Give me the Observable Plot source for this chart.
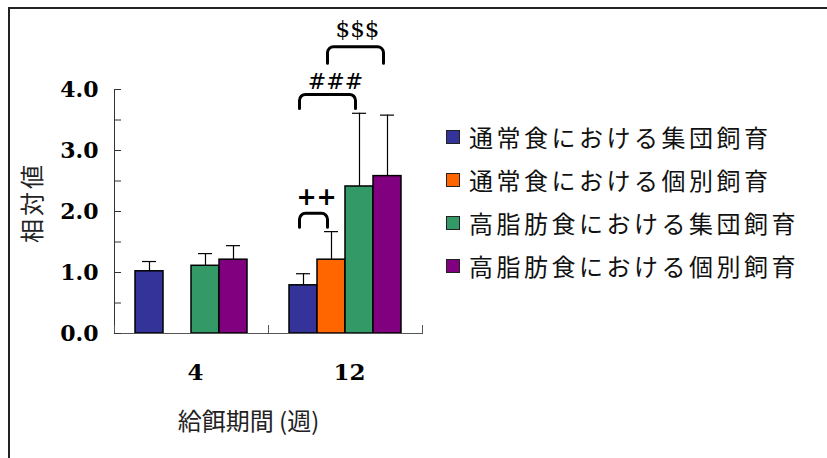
<!DOCTYPE html>
<html>
<head>
<meta charset="utf-8">
<script src="https://cdn.jsdelivr.net/npm/d3@7"></script>
<script src="https://cdn.jsdelivr.net/npm/@observablehq/plot@0.6"></script>
<style>
  html, body { margin: 0; padding: 0; background: #fff; overflow: hidden; }
  #wrap { position: relative; width: 827px; height: 458px; overflow: hidden; }
  #border { position: absolute; left: 8px; top: 7px; width: 900px; height: 600px;
            border-top: 2px solid #222; border-left: 2px solid #222; }
  #chart { position: absolute; left: 0; top: 0; }
  #legend { position: absolute; left: 446px; top: 115px;
            font-family: "Noto Sans CJK JP", sans-serif; font-size: 24px; color: #111; }
  .row { display: flex; align-items: center; height: 43px; letter-spacing: 3.5px; white-space: nowrap; }
  .sw { width: 12px; height: 12px; border: 1.5px solid #222; margin-right: 9px; flex: none; }
  .ytitle text { letter-spacing: 3px; }
</style>
</head>
<body>
<div id="wrap">
  <div id="border"></div>
  <div id="chart"></div>
  <div id="legend"></div>
</div>
<script>
// ---- data ----
const weeks = ["4", "12"];
const series = ["通常食における集団飼育", "通常食における個別飼育", "高脂肪食における集団飼育", "高脂肪食における個別飼育"];
const colors = ["#333399", "#FF6600", "#339966", "#800080"];
const means4 = [1.02, null, 1.11, 1.21];
const errs4 = [0.16, null, 0.20, 0.23];
const means12 = [0.79, 1.21, 2.41, 2.58];
const errs12 = [0.19, 0.46, 1.20, 1.00];
const yLabelTicks = [0, 1, 2, 3, 4];
const yMinorTicks = [0, 0.5, 1, 1.5, 2, 2.5, 3, 3.5, 4];
const yTitle = "相対値";
const xTitle = "給餌期間 (週)";
// significance brackets (week 12)
const sigLabels = ["++", "###", "$$$"];
const sigFrom = [0, 0, 1];
const sigTo = [1, 2, 3];
const sigTop = [1.97, 3.92, 4.70];
const sigBottom = [1.74, 3.69, 4.43];
const sigTextY = [2.23, 4.13, 4.98];

// ---- tables ----
const meansByWeek = [means4, means12];
const errsByWeek = [errs4, errs12];
const rows = weeks.flatMap((w, wi) => series.map((s, si) => ({
  week: w, series: s, value: meansByWeek[wi][si], err: errsByWeek[wi][si]
}))).filter(d => d.value != null);

const bracketPts = sigLabels.flatMap((lab, i) => [
  {id: lab, week: "12", x: series[sigFrom[i]], y: sigBottom[i]},
  {id: lab, week: "12", x: series[sigFrom[i]], y: sigTop[i]},
  {id: lab, week: "12", x: series[sigTo[i]], y: sigTop[i]},
  {id: lab, week: "12", x: series[sigTo[i]], y: sigBottom[i]}
]);
const sigText = sigLabels.map((lab, i) => ({label: lab, week: "12", y: sigTextY[i],
  x: series[lab === "++" ? sigFrom[i] : (lab === "###" ? 1 : 2)]}));

// rounded-corner curve for brackets
function roundedCorners(context) {
  let pts = [];
  return {
    areaStart() {}, areaEnd() {},
    lineStart() { pts = []; },
    point(x, y) { pts.push([+x, +y]); },
    lineEnd() {
      if (!pts.length) return;
      context.moveTo(pts[0][0], pts[0][1]);
      for (let i = 1; i < pts.length - 1; i++) {
        context.arcTo(pts[i][0], pts[i][1], pts[i + 1][0], pts[i + 1][1], 6);
      }
      const last = pts[pts.length - 1];
      context.lineTo(last[0], last[1]);
    }
  };
}

const numFont = "DejaVu Serif";

const chart = Plot.plot({
  width: 827,
  height: 458,
  marginLeft: 114,
  marginRight: 405,
  marginTop: 89,
  marginBottom: 125,
  style: {background: "transparent", overflow: "visible", fontFamily: numFont, color: "#000"},
  fx: {domain: weeks, padding: 0},
  x: {domain: series, paddingInner: 0, paddingOuter: 0.75, axis: null},
  y: {domain: [0, 4]},
  color: {domain: series, range: colors},
  marks: [
    Plot.barY(rows, {fx: "week", x: "series", y: "value", fill: "series", stroke: "#000", strokeWidth: 1.5}),
    Plot.ruleX(rows, {fx: "week", x: "series", y1: "value", y2: d => d.value + d.err, stroke: "#000", strokeWidth: 1.2}),
    Plot.tickY(rows, {fx: "week", x: "series", y: d => d.value + d.err, insetLeft: 7, insetRight: 7, stroke: "#000", strokeWidth: 1.2}),
    Plot.ruleY([0], {stroke: "#555", strokeWidth: 1.2}),
    Plot.frame({anchor: "left", facetAnchor: "left", stroke: "#333"}),
    Plot.frame({anchor: "left", insetTop: 236, stroke: "#555"}),
    Plot.frame({anchor: "right", facetAnchor: "right", insetTop: 236, stroke: "#555"}),
    Plot.axisY({ticks: yMinorTicks, tickSize: 7, dx: 7, tickFormat: () => "", label: null, stroke: "#333"}),
    Plot.axisY({ticks: yLabelTicks, tickSize: 0, tickPadding: 16, tickFormat: d => d.toFixed(1), label: null,
      fontFamily: numFont, fontWeight: "bold", fontSize: 22, fill: "#000"}),
    Plot.axisFx({anchor: "bottom", tickSize: 0, tickPadding: 30, label: null, dx: 4,
      fontFamily: numFont, fontWeight: "bold", fontSize: 23, fill: "#000"}),
    Plot.line(bracketPts, {fx: "week", x: "x", y: "y", z: "id", curve: roundedCorners, stroke: "#000", strokeWidth: 3, dx: -4}),
    Plot.text(sigText.filter(d => d.label === "++"), {fx: "week", x: "x", y: "y", text: "label", dx: 13,
      fontFamily: "DejaVu Sans", fontWeight: "bold", fontSize: 24, fill: "#000"}),
    Plot.text(sigText.filter(d => d.label === "###"), {fx: "week", x: "x", y: "y", text: "label", dx: 4,
      fontFamily: numFont, fontSize: 22, fill: "#000"}),
    Plot.text(sigText.filter(d => d.label === "$$$"), {fx: "week", x: "x", y: "y", text: "label", dx: -2,
      fontFamily: numFont, fontSize: 23, fill: "#000"}),
    Plot.text([yTitle], {text: d => d, frameAnchor: "left", facet: "super", rotate: -90, dx: -81, dy: -9,
      textAnchor: "middle", lineAnchor: "middle",
      fontFamily: "Noto Sans CJK JP", fontSize: 24, fill: "#222", className: "ytitle"}),
    Plot.text([xTitle], {text: d => d, frameAnchor: "bottom", facet: "super", dx: -20, dy: 89,
      textAnchor: "middle", lineAnchor: "middle",
      fontFamily: "Noto Sans CJK JP", fontSize: 24, fill: "#222"})
  ]
});
document.getElementById("chart").appendChild(chart);

// legend
const legend = document.getElementById("legend");
series.forEach((s, i) => {
  const row = document.createElement("div");
  row.className = "row";
  const sw = document.createElement("span");
  sw.className = "sw";
  sw.style.background = colors[i];
  const t = document.createElement("span");
  t.textContent = s;
  row.appendChild(sw);
  row.appendChild(t);
  legend.appendChild(row);
});
</script>
</body>
</html>
